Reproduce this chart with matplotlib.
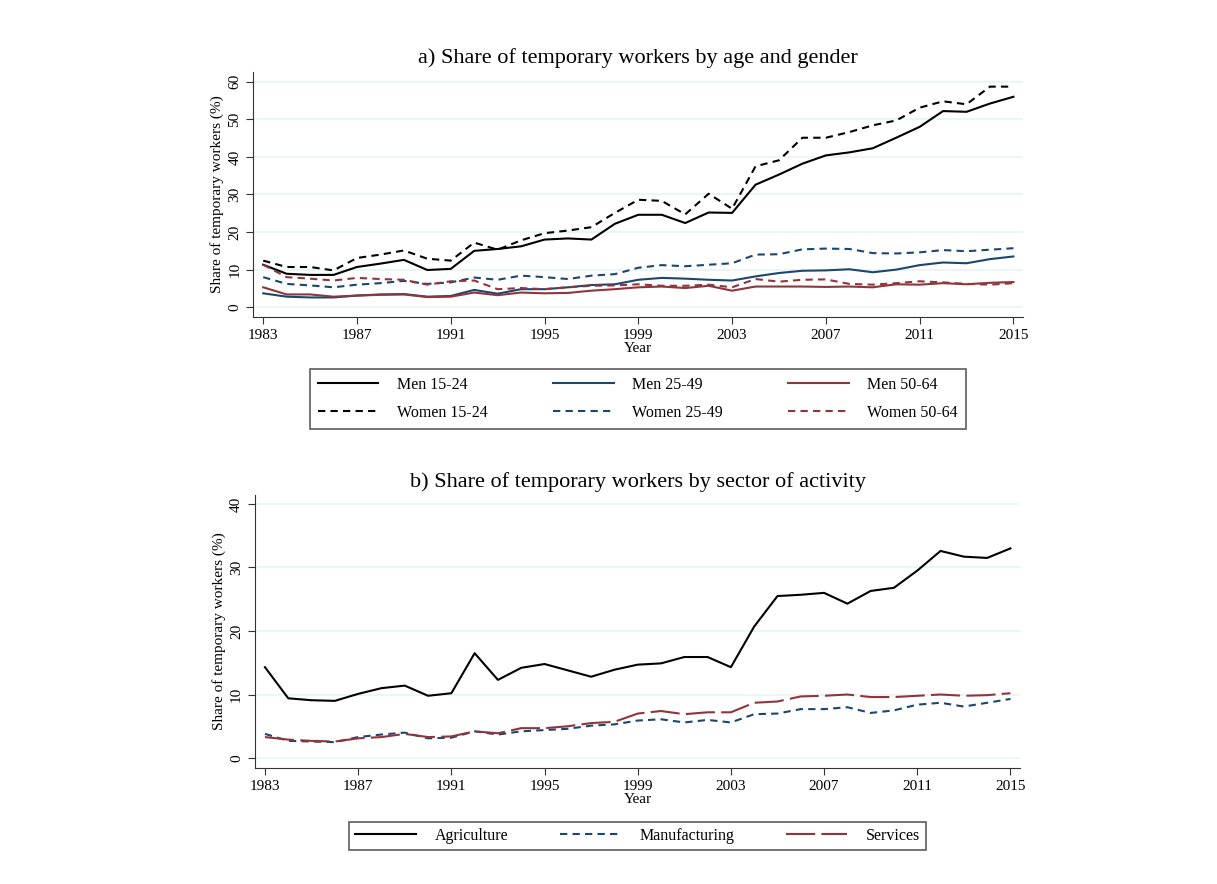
import matplotlib
matplotlib.use('Agg')
import matplotlib.pyplot as plt

plt.rcParams['font.family'] = ['Liberation Serif', 'DejaVu Serif']

years = list(range(1983, 2016))

men_15_24 = [11.3, 8.9, 8.6, 8.6, 10.7, 11.6, 12.6, 9.9, 10.2, 15.0, 15.5, 16.2, 18.0, 18.3, 18.0, 22.2,
             24.6, 24.6, 22.4, 25.2, 25.1, 32.6, 35.3, 38.2, 40.4, 41.2, 42.3, 45.1, 48.0, 52.2, 52.0, 54.2, 56.0]
women_15_24 = [12.4, 10.7, 10.7, 9.8, 13.1, 14.0, 15.1, 12.9, 12.4, 17.2, 15.3, 17.8, 19.7, 20.4, 21.3, 25.1,
               28.6, 28.3, 24.7, 30.2, 26.2, 37.5, 39.1, 45.1, 45.1, 46.6, 48.4, 49.7, 53.1, 54.8, 54.0, 58.7, 58.7]
men_25_49 = [3.7, 2.8, 2.6, 2.6, 3.1, 3.4, 3.5, 2.8, 3.0, 4.6, 3.6, 4.8, 4.8, 5.3, 5.9, 6.1,
             7.3, 7.8, 7.6, 7.3, 7.1, 8.2, 9.1, 9.7, 9.8, 10.1, 9.3, 10.0, 11.2, 11.9, 11.7, 12.8, 13.5]
women_25_49 = [8.0, 6.2, 5.8, 5.3, 6.0, 6.4, 7.0, 6.2, 6.6, 7.9, 7.3, 8.4, 8.0, 7.5, 8.4, 8.8,
               10.5, 11.2, 10.9, 11.3, 11.7, 14.0, 14.1, 15.4, 15.6, 15.5, 14.4, 14.3, 14.6, 15.2, 14.9, 15.3, 15.7]
men_50_64 = [5.3, 3.4, 3.4, 2.8, 3.1, 3.3, 3.4, 2.7, 2.8, 3.9, 3.2, 3.9, 3.7, 3.8, 4.4, 4.8,
             5.3, 5.5, 5.1, 5.7, 4.4, 5.5, 5.5, 5.5, 5.4, 5.5, 5.3, 6.1, 6.0, 6.4, 6.1, 6.5, 6.7]
women_50_64 = [11.3, 8.0, 7.6, 7.1, 7.8, 7.5, 7.3, 6.0, 6.9, 7.1, 4.8, 5.1, 4.8, 5.3, 5.7, 5.8,
               6.1, 5.7, 5.7, 6.0, 5.3, 7.5, 6.8, 7.3, 7.4, 6.2, 6.0, 6.4, 6.9, 6.6, 6.2, 6.0, 6.4]

agriculture = [14.3, 9.4, 9.1, 9.0, 10.1, 11.0, 11.4, 9.8, 10.2, 16.5, 12.3, 14.2, 14.8, 13.8, 12.8, 13.9,
               14.7, 14.9, 15.9, 15.9, 14.3, 20.7, 25.5, 25.7, 26.0, 24.3, 26.3, 26.8, 29.5, 32.6, 31.7, 31.5, 33.0]
manufacturing = [3.8, 2.7, 2.6, 2.5, 3.3, 3.7, 4.0, 3.1, 3.2, 4.2, 3.7, 4.2, 4.4, 4.6, 5.1, 5.3,
                 5.9, 6.1, 5.6, 6.0, 5.6, 6.9, 7.0, 7.7, 7.7, 8.0, 7.1, 7.5, 8.4, 8.7, 8.1, 8.7, 9.3]
services = [3.3, 2.9, 2.7, 2.6, 3.1, 3.3, 3.8, 3.3, 3.4, 4.2, 3.9, 4.7, 4.7, 5.0, 5.5, 5.7,
            7.0, 7.4, 6.9, 7.2, 7.2, 8.7, 8.9, 9.7, 9.8, 10.0, 9.6, 9.6, 9.8, 10.0, 9.8, 9.9, 10.2]

xticks = list(range(1983, 2016, 4))

navy = '#1a476f'
maroon = '#90353b'
grid_c = '#eaf2f3'

fig = plt.figure(figsize=(12.17, 8.84), dpi=100)

def style(ax, ymax, ystep, ylim):
    ax.set_xlim(1982.57, 2015.43)
    ax.set_ylim(*ylim)
    ax.set_xticks(xticks)
    ax.set_yticks(range(0, ymax + 1, ystep))
    for t in ax.get_yticklabels():
        t.set_rotation(90)
        t.set_va('center')
    ax.tick_params(labelsize=11, direction='out', length=5, color='#333333')
    ax.spines['top'].set_visible(False)
    ax.spines['right'].set_visible(False)
    ax.spines['left'].set_color('#333333')
    ax.spines['bottom'].set_color('#333333')
    ax.grid(axis='y', color=grid_c, linewidth=1.2)
    ax.set_axisbelow(True)
    ax.set_xlabel('Year', fontsize=11, labelpad=0)
    ax.set_ylabel('Share of temporary workers (%)', fontsize=11, labelpad=3)

# panel a
ax1 = fig.add_axes([0.208, 0.641, 0.633, 0.278])
dash = (0, (3.5, 2.5))
l1, = ax1.plot(years, men_15_24, color='black', lw=1.5, label='Men 15-24')
l2, = ax1.plot(years, men_25_49, color=navy, lw=1.5, label='Men 25-49')
l3, = ax1.plot(years, men_50_64, color=maroon, lw=1.5, label='Men 50-64')
l4, = ax1.plot(years, women_15_24, color='black', lw=1.5, ls=dash, label='Women 15-24')
l5, = ax1.plot(years, women_25_49, color=navy, lw=1.5, ls=dash, label='Women 25-49')
l6, = ax1.plot(years, women_50_64, color=maroon, lw=1.5, ls=dash, label='Women 50-64')
style(ax1, 60, 10, (-2.7, 62.7))
ax1.set_title('a) Share of temporary workers by age and gender', fontsize=16, pad=6)
# column-wise fill -> order so rows read Men / Women
leg1 = fig.legend(handles=[l1, l4, l2, l5, l3, l6], loc='center', bbox_to_anchor=(0.524, 0.5486),
                  ncol=3, fontsize=11.5, frameon=True, fancybox=False, edgecolor='#333333',
                  handlelength=3.8, handletextpad=1.15, columnspacing=4.1, borderpad=0.5, labelspacing=0.75)
leg1.get_frame().set_linewidth(1.2)

# panel b
ax2 = fig.add_axes([0.2095, 0.131, 0.629, 0.309])
m1, = ax2.plot(years, agriculture, color='black', lw=1.5, label='Agriculture')
m2, = ax2.plot(years, manufacturing, color=navy, lw=1.5, ls=dash, label='Manufacturing')
m3, = ax2.plot(years, services, color=maroon, lw=1.5, ls=(0, (14, 3)), label='Services')
style(ax2, 40, 10, (-1.6, 41.4))
ax2.set_title('b) Share of temporary workers by sector of activity', fontsize=16, pad=6)
leg2 = fig.legend(handles=[m1, m2, m3], loc='center', bbox_to_anchor=(0.524, 0.0543),
                  ncol=3, fontsize=11.5, frameon=True, fancybox=False, edgecolor='#333333',
                  handlelength=3.8, handletextpad=1.2, columnspacing=3.2, borderpad=0.4)
leg2.get_frame().set_linewidth(1.2)

fig.savefig('out.png', dpi=100, facecolor='white')
